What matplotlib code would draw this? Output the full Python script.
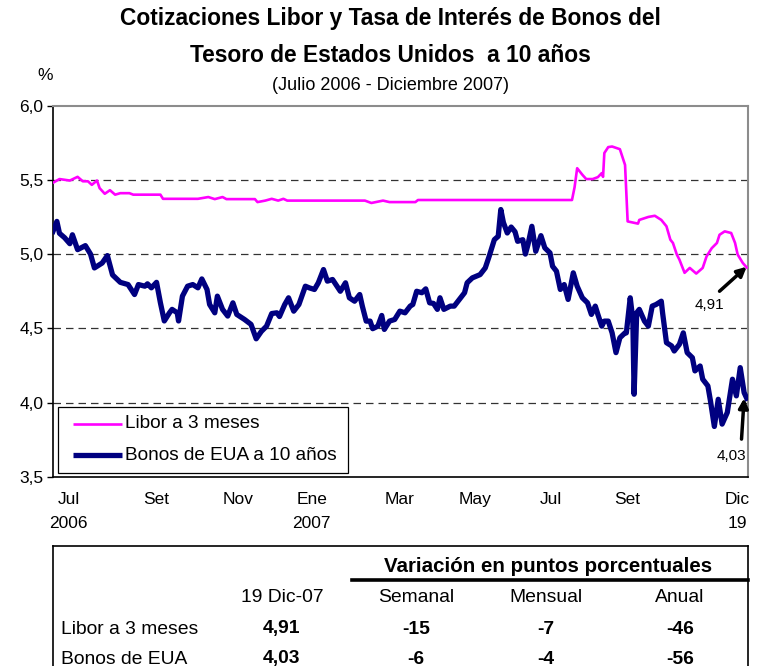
import matplotlib
matplotlib.use("Agg")
import matplotlib.pyplot as plt
from matplotlib.patches import Rectangle
from matplotlib.ticker import FuncFormatter

plt.rcParams["font.family"] = ["Liberation Sans", "DejaVu Sans"]

# dias desde el 1 de julio de 2006
libor_dias = [0, 5, 13, 19, 23, 27, 30, 34, 36, 40, 44, 48, 52, 59, 62, 83, 85, 90,
              112, 120, 125, 131, 134, 156, 158, 164, 169, 174, 178, 181, 241, 246,
              255, 260, 268, 280, 282, 357, 401, 403, 405, 409, 412, 417, 421, 424,
              425, 426, 429, 432, 438, 442, 444, 452, 453, 460, 465, 470, 474, 477,
              479, 482, 484, 488, 492, 497, 502, 505, 509, 513, 515, 519, 524, 527,
              529, 533, 536]
libor = [5.48, 5.505, 5.495, 5.52, 5.49, 5.49, 5.466, 5.495, 5.444, 5.406, 5.43, 5.40,
         5.41, 5.41, 5.40, 5.40, 5.372, 5.372, 5.372, 5.384, 5.37, 5.384, 5.37, 5.37,
         5.35, 5.36, 5.372, 5.36, 5.372, 5.36, 5.36, 5.344, 5.36, 5.35, 5.35, 5.35,
         5.364, 5.364, 5.364, 5.45, 5.578, 5.534, 5.505, 5.505, 5.518, 5.545, 5.52,
         5.68, 5.72, 5.724, 5.706, 5.60, 5.22, 5.205, 5.23, 5.25, 5.258, 5.23, 5.187,
         5.097, 5.075, 4.997, 4.963, 4.874, 4.907, 4.869, 4.907, 4.985, 5.04, 5.075,
         5.13, 5.153, 5.142, 5.075, 4.997, 4.94, 4.91]

bonos_dias = [0, 3, 5, 9, 13, 15, 19, 25, 29, 32, 38, 42, 46, 52, 58, 63, 66, 71, 73,
              76, 80, 83, 86, 90, 92, 96, 97, 100, 104, 108, 112, 115, 119, 121, 125,
              127, 131, 135, 139, 142, 148, 153, 157, 161, 165, 169, 173, 175, 179,
              182, 186, 190, 195, 198, 202, 205, 209, 212, 216, 222, 226, 229, 233,
              237, 239, 242, 245, 247, 251, 254, 256, 260, 264, 268, 272, 276, 278,
              281, 285, 288, 291, 294, 297, 299, 302, 307, 310, 314, 318, 320, 324,
              330, 334, 337, 341, 344, 346, 348, 351, 354, 357, 359, 363, 365, 367,
              370, 373, 377, 380, 384, 386, 389, 392, 395, 398, 402, 405, 409, 413,
              416, 419, 421, 424, 426, 429, 432, 435, 438, 442, 443, 446, 448, 449,
              451, 453, 457, 460, 463, 466, 470, 471, 474, 478, 480, 484, 487, 490,
              494, 496, 500, 502, 506, 508, 511, 514, 517, 521, 525, 528, 531, 534, 536]
bonos = [5.153, 5.22, 5.14, 5.11, 5.07, 5.13, 5.03, 5.057, 5.0, 4.907, 4.94, 4.99,
         4.86, 4.81, 4.795, 4.728, 4.795, 4.784, 4.80, 4.773, 4.81, 4.672, 4.55, 4.605,
         4.628, 4.605, 4.55, 4.717, 4.784, 4.795, 4.773, 4.833, 4.762, 4.661, 4.605,
         4.717, 4.628, 4.583, 4.672, 4.594, 4.56, 4.527, 4.43, 4.48, 4.515, 4.60,
         4.605, 4.58, 4.66, 4.706, 4.616, 4.661, 4.784, 4.773, 4.762, 4.807, 4.896,
         4.818, 4.829, 4.75, 4.807, 4.706, 4.683, 4.728, 4.65, 4.549, 4.549, 4.498,
         4.515, 4.587, 4.493, 4.549, 4.56, 4.616, 4.605, 4.65, 4.661, 4.75, 4.74,
         4.766, 4.672, 4.668, 4.628, 4.706, 4.628, 4.65, 4.65, 4.695, 4.74, 4.807,
         4.84, 4.862, 4.907, 4.985, 5.097, 5.12, 5.30, 5.213, 5.142, 5.182, 5.15,
         5.086, 5.097, 5.0, 5.064, 5.187, 5.019, 5.124, 5.042, 5.008, 4.918, 4.885,
         4.762, 4.795, 4.695, 4.874, 4.784, 4.706, 4.672, 4.594, 4.65, 4.594, 4.515,
         4.549, 4.549, 4.47, 4.337, 4.437, 4.47, 4.47, 4.706, 4.56, 4.057, 4.605,
         4.628, 4.549, 4.515, 4.65, 4.661, 4.683, 4.605, 4.404, 4.382, 4.348, 4.393,
         4.47, 4.337, 4.303, 4.214, 4.247, 4.158, 4.113, 4.012, 3.84, 4.023, 3.856,
         3.934, 4.158, 4.046, 4.236, 4.068, 4.03]

tick_dias = [12, 80, 143, 200, 268, 326, 385, 444, 529]
tick_labels = ["Jul\n2006", "Set", "Nov", "Ene\n2007", "Mar", "May", "Jul", "Set", "Dic\n19"]

series_names = ["Libor a 3 meses", "Bonos de EUA a 10 años"]
tabla_cols = ["19 Dic-07", "Semanal", "Mensual", "Anual"]
tabla_filas = ["Libor a 3 meses", "Bonos de EUA"]
tabla_vals = [["4,91", "-15", "-7", "-46"],
              ["4,03", "-6", "-4", "-56"]]

W, H = 765, 666
AX_L, AX_T, AX_W, AX_H = 53, 105.5, 695, 371.5
fig = plt.figure(figsize=(W / 100, H / 100), dpi=100)
ax = fig.add_axes([AX_L / W, 1 - (AX_T + AX_H) / H, AX_W / W, AX_H / H])


def px(x, y):
    """pixel de la imagen -> fraccion de ejes"""
    return (x - AX_L) / AX_W, (AX_T + AX_H - y) / AX_H


ax.plot(libor_dias, libor, color="#ff00ff", lw=1.9, zorder=3)
ax.plot(bonos_dias, bonos, color="#000080", lw=3.8, zorder=4)

ax.set_xlim(0, 537)
ax.set_ylim(3.5, 6.0)
ax.set_yticks([3.5, 4.0, 4.5, 5.0, 5.5, 6.0])
ax.yaxis.set_major_formatter(FuncFormatter(lambda v, p: f"{v:.1f}".replace(".", ",")))
for g in [4.0, 4.5, 5.0, 5.5]:
    ax.axhline(g, color="#333333", lw=0.9, dashes=(6, 4), zorder=1)
ax.set_xticks(tick_dias)
ax.set_xticklabels(tick_labels)
ax.tick_params(axis="y", direction="out", length=4, width=1, labelsize=12.5, pad=3)
ax.tick_params(axis="x", length=0, labelsize=12.5, pad=11)
for lbl in ax.get_xticklabels():
    lbl.set_linespacing(1.7)
for s in ["left", "bottom"]:
    ax.spines[s].set_color("black")
    ax.spines[s].set_linewidth(1.2)
for s in ["top", "right"]:
    ax.spines[s].set_color("#8c8c8c")
    ax.spines[s].set_linewidth(1.5)

# leyenda
x0, y0 = px(58, 473)
x1, y1 = px(348, 407)
ax.add_patch(Rectangle((x0, y0), x1 - x0, y1 - y0, transform=ax.transAxes,
                       fc="white", ec="black", lw=0.9, zorder=6))
for (yy, color, lw, name) in [(424, "#ff00ff", 1.9, series_names[0]),
                              (455, "#000080", 3.8, series_names[1])]:
    a, b = px(73, yy)
    c, _ = px(122, yy)
    ax.plot([a, c], [b, b], transform=ax.transAxes, color=color, lw=lw,
            solid_capstyle="butt", zorder=7)
    t, _ = px(125, yy)
    ax.text(t, b, name, transform=ax.transAxes, ha="left", va="center",
            fontsize=13.7, zorder=7)

ax.annotate("", xy=(536, 4.915), xytext=(515, 4.75),
            arrowprops=dict(arrowstyle="-|>", color="black", lw=2.5, mutation_scale=14,
                            shrinkA=0, shrinkB=0))
ax.text(507, 4.655, "4,91", ha="center", va="center", fontsize=11)
ax.annotate("", xy=(534, 4.03), xytext=(532, 3.755),
            arrowprops=dict(arrowstyle="-|>", color="black", lw=2.5, mutation_scale=14,
                            shrinkA=0, shrinkB=0))
ax.text(524, 3.643, "4,03", ha="center", va="center", fontsize=11)

# titulos
fig.text(390 / W, 1 - 19 / H, "Cotizaciones Libor y Tasa de Interés de Bonos del",
         ha="center", va="center", fontsize=16.4, weight="bold")
fig.text(390 / W, 1 - 56 / H, "Tesoro de Estados Unidos  a 10 años",
         ha="center", va="center", fontsize=16.4, weight="bold")
fig.text(390 / W, 1 - 85 / H, "(Julio 2006 - Diciembre 2007)",
         ha="center", va="center", fontsize=13)
fig.text(45 / W, 1 - 75 / H, "%", ha="center", va="center", fontsize=12.5)

# tabla
tx = fig.add_axes([0, 0, 1, 126 / H])
tx.set_xlim(0, W)
tx.set_ylim(H, 540)
tx.axis("off")
tx.plot([53, 53], [546, H], color="black", lw=1.2)
tx.plot([748, 748], [546, H], color="black", lw=1.2)
tx.plot([53, 748], [546, 546], color="black", lw=1.2)
tx.plot([352, 748], [580, 580], color="black", lw=2.6)
tx.text(548, 567, "Variación en puntos porcentuales", ha="center", va="center",
        fontsize=14.8, weight="bold")
col_x = [282, 416, 546, 680]
for cx, c in zip(col_x, tabla_cols):
    tx.text(cx, 598, c, ha="center", va="center", fontsize=13.9)
for fila, (nombre, vals) in enumerate(zip(tabla_filas, tabla_vals)):
    yy = 629 + fila * 30
    tx.text(61, yy, nombre, ha="left", va="center", fontsize=13.9)
    for cx, v in zip(col_x, vals):
        tx.text(cx, yy, v, ha="center", va="center", fontsize=13.9, weight="bold")

fig.savefig("out.png", dpi=100)
